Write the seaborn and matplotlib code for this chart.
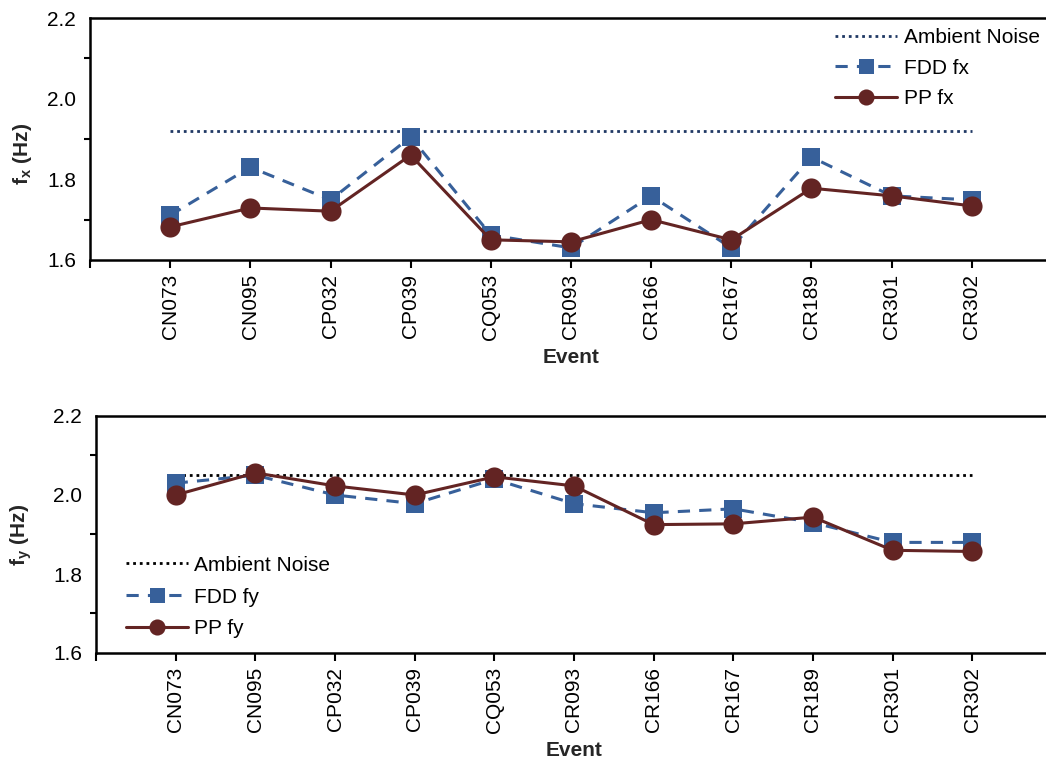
import matplotlib
matplotlib.use("Agg")
import matplotlib.pyplot as plt
import seaborn as sns
import pandas as pd
from matplotlib.ticker import MultipleLocator

sns.set_theme(style="white")
plt.rcParams["font.family"] = ["Liberation Sans", "DejaVu Sans"]
plt.rcParams["mathtext.fontset"] = "custom"
plt.rcParams["mathtext.bf"] = "Liberation Sans:bold"
plt.rcParams["mathtext.rm"] = "Liberation Sans"

events = ["CN073", "CN095", "CP032", "CP039", "CQ053", "CR093",
          "CR166", "CR167", "CR189", "CR301", "CR302"]

ambient_fx = 1.92
fdd_fx = [1.711, 1.830, 1.749, 1.905, 1.662, 1.630, 1.759, 1.630, 1.855, 1.759, 1.749]
pp_fx = [1.682, 1.729, 1.721, 1.860, 1.650, 1.645, 1.700, 1.650, 1.778, 1.759, 1.734]

ambient_fy = 2.05
fdd_fy = [2.030, 2.050, 2.000, 1.978, 2.040, 1.978, 1.955, 1.965, 1.930, 1.880, 1.880]
pp_fy = [2.000, 2.056, 2.023, 2.000, 2.046, 2.023, 1.925, 1.927, 1.944, 1.860, 1.857]

BLUE = "#37609A"
MAROON = "#632423"
FS = 15

fig = plt.figure(figsize=(10.46, 7.61), dpi=100)
W, H = 1046, 761


def px_axes(left, top, right, bottom):
    return fig.add_axes([left / W, 1 - bottom / H, (right - left) / W, (bottom - top) / H])


def draw_panel(ax, fdd, pp, ambient, amb_color, sub, x0, ylabel_xy, leg_kw):
    df = pd.DataFrame({"event": events, "fdd": fdd, "pp": pp,
                       "amb": [ambient] * len(events)})
    df["pos"] = range(len(events))
    sns.lineplot(data=df, x="pos", y="amb", ax=ax, color=amb_color,
                 linewidth=2.0, dashes=False, label="Ambient Noise")
    ax.lines[-1].set_dashes((1, 1.4))
    sns.lineplot(data=df, x="pos", y="fdd", ax=ax, color=BLUE, linewidth=2.2,
                 marker="s", markersize=13.5, markeredgewidth=0, label=f"FDD f{sub}")
    ax.lines[-1].set_dashes((4, 3))
    sns.lineplot(data=df, x="pos", y="pp", ax=ax, color=MAROON, linewidth=2.2,
                 marker="o", markersize=14.5, markeredgewidth=0, label=f"PP f{sub}")

    ax.set_xlim(x0, 11)
    ax.set_ylim(1.6, 2.2)
    ax.set_xticks([-1] + list(range(len(events))))
    ax.set_xticklabels([""] + events, rotation=90, fontsize=FS)
    ax.yaxis.set_major_locator(MultipleLocator(0.2))
    ax.yaxis.set_minor_locator(MultipleLocator(0.1))
    ax.set_yticks([1.6, 1.8, 2.0, 2.2])
    ax.set_yticklabels(["1.6", "1.8", "2.0", "2.2"], fontsize=FS)
    ax.tick_params(axis="both", which="major", direction="out", length=6,
                   width=1.5, color="black", labelcolor="black", pad=4)
    ax.tick_params(axis="y", which="minor", direction="out", length=4,
                   width=1.5, color="black", left=True)
    ax.tick_params(axis="x", which="major", bottom=True)
    for side in ["left", "bottom", "top", "right"]:
        ax.spines[side].set_color("black")
        ax.spines[side].set_linewidth(1.8)
    ax.set_xlabel("Event", fontsize=FS, fontweight="bold", labelpad=6)
    ax.set_ylabel(rf"$\mathbf{{f_{sub}}}$ (Hz)", fontsize=FS, fontweight="bold")
    ax.yaxis.set_label_coords(*ylabel_xy)
    ax.grid(False)
    leg = ax.legend(frameon=False, fontsize=FS, handlelength=3, markerscale=0.8,
                    handletextpad=0.3, **leg_kw)
    for t in leg.get_texts():
        t.set_color("black")


ax1 = px_axes(90, 18, 1052, 260)
draw_panel(ax1, fdd_fx, pp_fx, ambient_fx, "#1F3864", "x", -1.0, (-0.058, 0.44),
           dict(loc="upper left", bbox_to_anchor=((816 - 90) / 962, 1.035),
                labelspacing=0.55))

ax2 = px_axes(96, 416, 1052, 653)
draw_panel(ax2, fdd_fy, pp_fy, ambient_fy, "black", "y", -0.96, (-0.065, 0.5),
           dict(loc="upper left", bbox_to_anchor=((107 - 96) / 956, 0.49),
                labelspacing=0.62))

fig.savefig("out.png", dpi=100)
